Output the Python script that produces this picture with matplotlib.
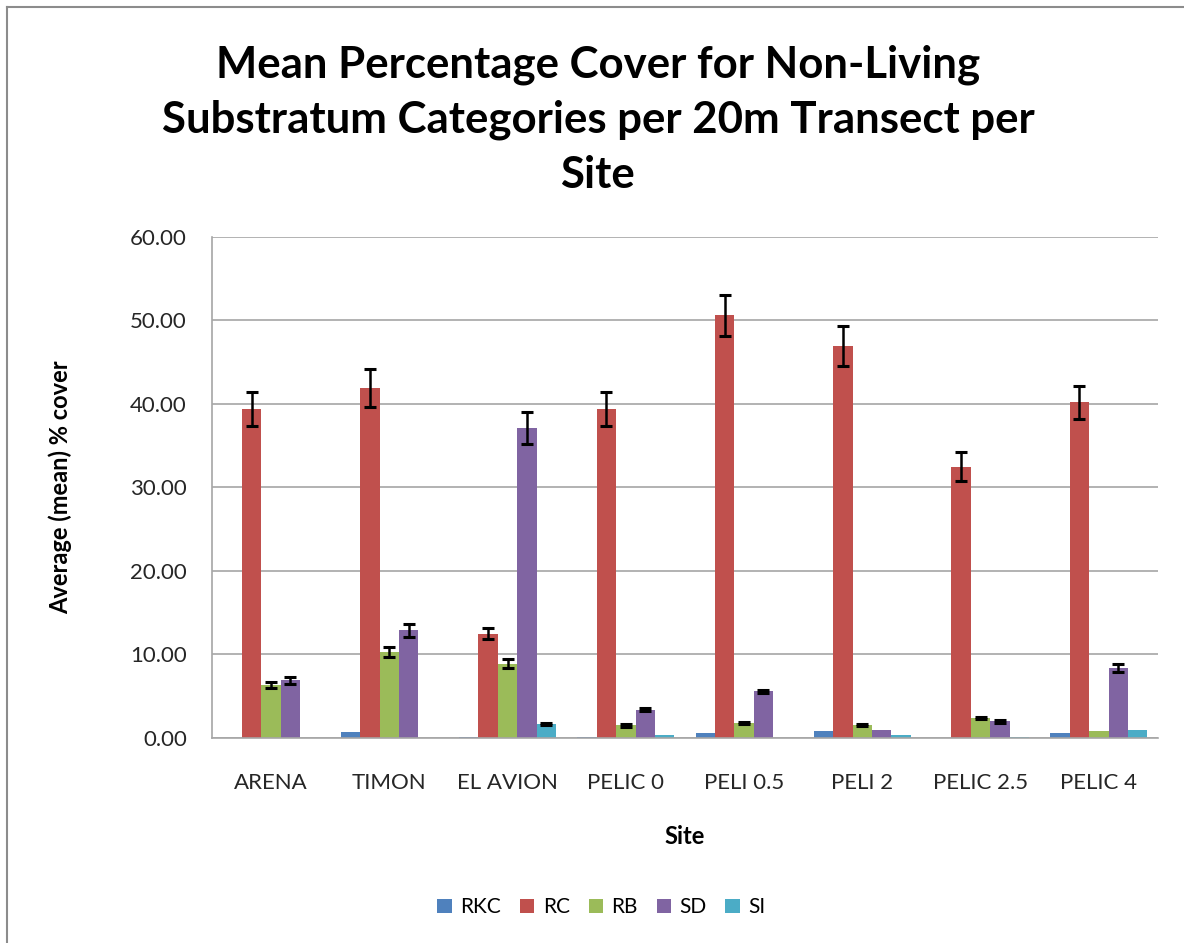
import numpy as np
import matplotlib.pyplot as plt
from matplotlib.lines import Line2D

plt.rcParams['font.family'] = ['Lato', 'DejaVu Sans']

sites = ['ARENA', 'TIMON', 'EL AVION', 'PELIC 0', 'PELI 0.5', 'PELI 2', 'PELIC 2.5', 'PELIC 4']
categories = ['RKC', 'RC', 'RB', 'SD', 'SI']

# mean % cover per category (one list per category, in site order)
rkc = [0.00, 0.76, 0.12, 0.12, 0.60, 0.88, 0.00, 0.60]
rc = [39.4, 41.9, 12.5, 39.4, 50.6, 46.9, 32.5, 40.2]
rb = [6.3, 10.3, 8.9, 1.5, 1.8, 1.6, 2.4, 0.8]
sd = [6.9, 12.9, 37.1, 3.4, 5.6, 0.9, 2.0, 8.4]
si = [0.00, 0.00, 1.7, 0.3, 0.00, 0.3, 0.1, 0.9]

# standard errors (0 = no error bar drawn)
rkc_err = [0, 0, 0, 0, 0, 0, 0, 0]
rc_err = [2.0, 2.3, 0.7, 2.0, 2.5, 2.4, 1.7, 2.0]
rb_err = [0.35, 0.6, 0.5, 0.15, 0.15, 0.12, 0.15, 0]
sd_err = [0.4, 0.75, 1.9, 0.15, 0.2, 0, 0.15, 0.5]
si_err = [0, 0, 0.12, 0, 0, 0, 0, 0]

values = [rkc, rc, rb, sd, si]
errors = [rkc_err, rc_err, rb_err, sd_err, si_err]
colors = ['#4F81BD', '#C0504D', '#9BBB59', '#8064A2', '#4BACC6']

fig = plt.figure(figsize=(11.84, 9.43), dpi=100)
ax = fig.add_axes([0.179, 0.2174, 0.799, 0.5313])

x = np.arange(len(sites))
width = 0.164
for i, (vals, errs, col, name) in enumerate(zip(values, errors, colors, categories)):
    pos = x + (i - 2) * width
    ax.bar(pos, vals, width, color=col, label=name, zorder=2)
    errs = np.array(errs)
    mask = errs > 0
    if mask.any():
        ax.errorbar(pos[mask], np.array(vals)[mask], yerr=errs[mask], fmt='none',
                    ecolor='black', elinewidth=1.8, capsize=4.3, capthick=2.2, zorder=3)

ax.set_xlim(-0.5, len(sites) - 0.5)
ax.set_ylim(0, 60)
ax.set_yticks(np.arange(0, 61, 10))
ax.set_yticklabels([f'{v:.2f}' for v in np.arange(0, 61, 10)], fontsize=16, color='#262626')
ax.set_xticks(x)
ax.set_xticklabels(sites, fontsize=16, color='#262626')
ax.tick_params(axis='y', length=0, pad=18)
ax.tick_params(axis='x', length=0, pad=25)
ax.grid(axis='y', color='#A6A6A6', linewidth=1.2, zorder=0)
ax.set_axisbelow(True)
for s in ['top', 'right']:
    ax.spines[s].set_visible(False)
for s in ['left', 'bottom']:
    ax.spines[s].set_color('#A6A6A6')
    ax.spines[s].set_linewidth(1.2)

ax.set_ylabel('Average (mean) % cover', fontsize=17, fontweight='bold')
ax.yaxis.set_label_coords(-0.148, 0.5)
ax.set_xlabel('Site', fontsize=17, fontweight='bold', labelpad=23)

fig.text(0.505, 0.873, 'Mean Percentage Cover for Non-Living\nSubstratum Categories per 20m Transect per\nSite',
         ha='center', va='center', fontsize=31.5, fontweight='bold', linespacing=1.45)

fig.legend(loc='center', bbox_to_anchor=(0.508, 0.038), ncol=5, frameon=False,
           fontsize=15, handlelength=0.7, handleheight=0.7, handletextpad=0.4,
           columnspacing=0.9)

# outer chart frame (left and top edges visible)
fig.add_artist(Line2D([7 / 1184, 7 / 1184], [0, 1 - 7 / 943], transform=fig.transFigure,
                      color='#8C8C8C', linewidth=1.5))
fig.add_artist(Line2D([7 / 1184, 1], [1 - 7 / 943, 1 - 7 / 943], transform=fig.transFigure,
                      color='#8C8C8C', linewidth=1.5))

fig.savefig('out.png', dpi=100)
